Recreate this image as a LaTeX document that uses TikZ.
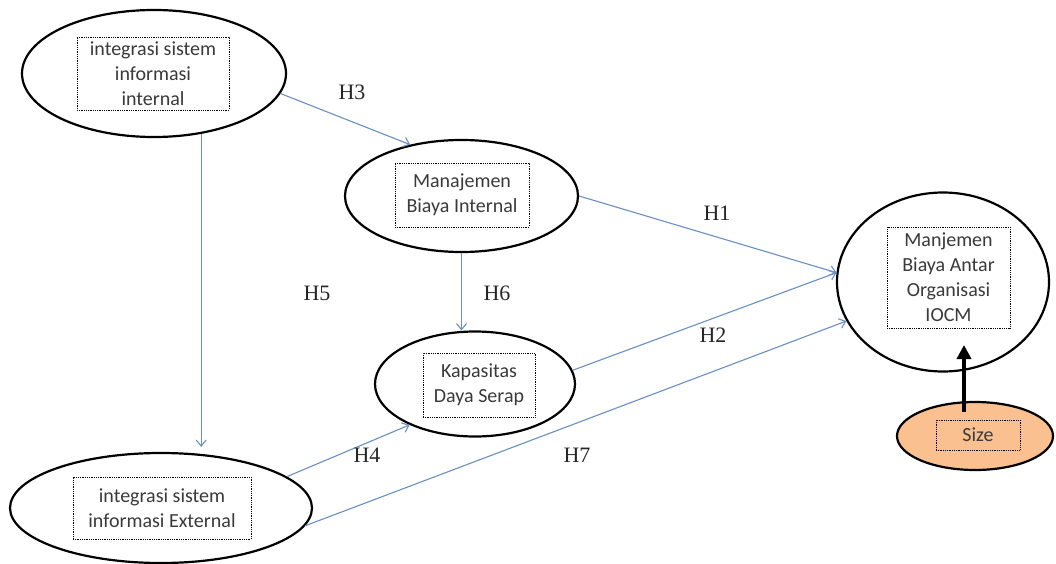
\documentclass[tikz,border=0pt]{standalone}
\usepackage{fontspec}
\setmainfont{Carlito}
\newfontfamily\hfont{Liberation Serif}
\usetikzlibrary{shapes.geometric}
\usetikzlibrary{arrows.meta}
\definecolor{linkblue}{HTML}{6A8FC4}
\definecolor{sizefill}{HTML}{FAC090}
\definecolor{boxtext}{HTML}{3A3A3A}

\begin{document}
\begin{tikzpicture}[x=1pt,y=-1pt,
  var/.style={ellipse,draw=black,line width=2.2pt,inner sep=0pt},
  lbl/.style={draw=black,densely dotted,line width=0.8pt,align=center,text=boxtext,font=\fontsize{20}{25}\selectfont,inner sep=0pt},
  link/.style={draw=linkblue,line width=1.1pt,-{Straight Barb[length=6pt,width=10pt]}},
  hyp/.style={font=\hfont\fontsize{22}{26}\selectfont,text=black!85}]
\useasboundingbox (0,0) rectangle (1056,564);
\fill[white] (0,0) rectangle (1056,564);

\node[var,minimum width=264pt,minimum height=127pt] (isi) at (154,73.5) {};
\node[var,minimum width=233pt,minimum height=112pt] (mbi) at (461.5,196) {};
\node[var,minimum width=200pt,minimum height=105pt] (kds) at (475,384) {};
\node[var,minimum width=212pt,minimum height=179pt] (iocm) at (943,282) {};
\node[var,fill=sizefill,minimum width=156pt,minimum height=68pt] (sz) at (975,436) {};
\node[var,minimum width=302pt,minimum height=110pt] (ise) at (161,508) {};

\node[lbl,minimum width=152pt,minimum height=73pt] (isitxt) at (153,73.5) {integrasi sistem\\informasi\\internal};
\node[lbl,minimum width=134pt,minimum height=64pt] (mbitxt) at (462,195) {Manajemen\\Biaya Internal};
\node[lbl,minimum width=112pt,minimum height=64pt] (kdstxt) at (479,385) {Kapasitas\\Daya Serap};
\node[lbl,minimum width=123pt,minimum height=101pt] (iocmtxt) at (948.5,277.5) {Manjemen\\Biaya Antar\\Organisasi\\IOCM};
\node[lbl,minimum width=84pt,minimum height=30pt] (sztxt) at (978,435) {Size};
\node[lbl,minimum width=178pt,minimum height=62pt] (isetxt) at (162,508) {integrasi sistem\\informasi External};

\draw[link] (isi.-9) -- (mbi.135);
\draw[link,shorten >=5pt] (isi.-52) -- (isi.-52 |- ise.north);
\draw[link] (mbi.south) -- (mbi.south |- kds.north);
\draw[link] (mbi.east) -- (iocm.175);
\draw[link] (kds.8) -- (iocm.175);
\draw[link] (ise.14) -- (kds.212);
\draw[link] (ise.-7) -- (iocm.202);

\coordinate (sztip) at (964,345);
\draw[line width=3.5pt,-{Triangle[length=14pt,width=14pt]}] (964,412) -- (sztip);

\node[hyp] (h3) at (352,92) {H3};
\node[hyp] (h1) at (717,213) {H1};
\node[hyp] (h5) at (317,293) {H5};
\node[hyp] (h6) at (497,293) {H6};
\node[hyp] (h2) at (713,335) {H2};
\node[hyp] (h4) at (367,455) {H4};
\node[hyp] (h7) at (577,455) {H7};
\end{tikzpicture}
\end{document}
